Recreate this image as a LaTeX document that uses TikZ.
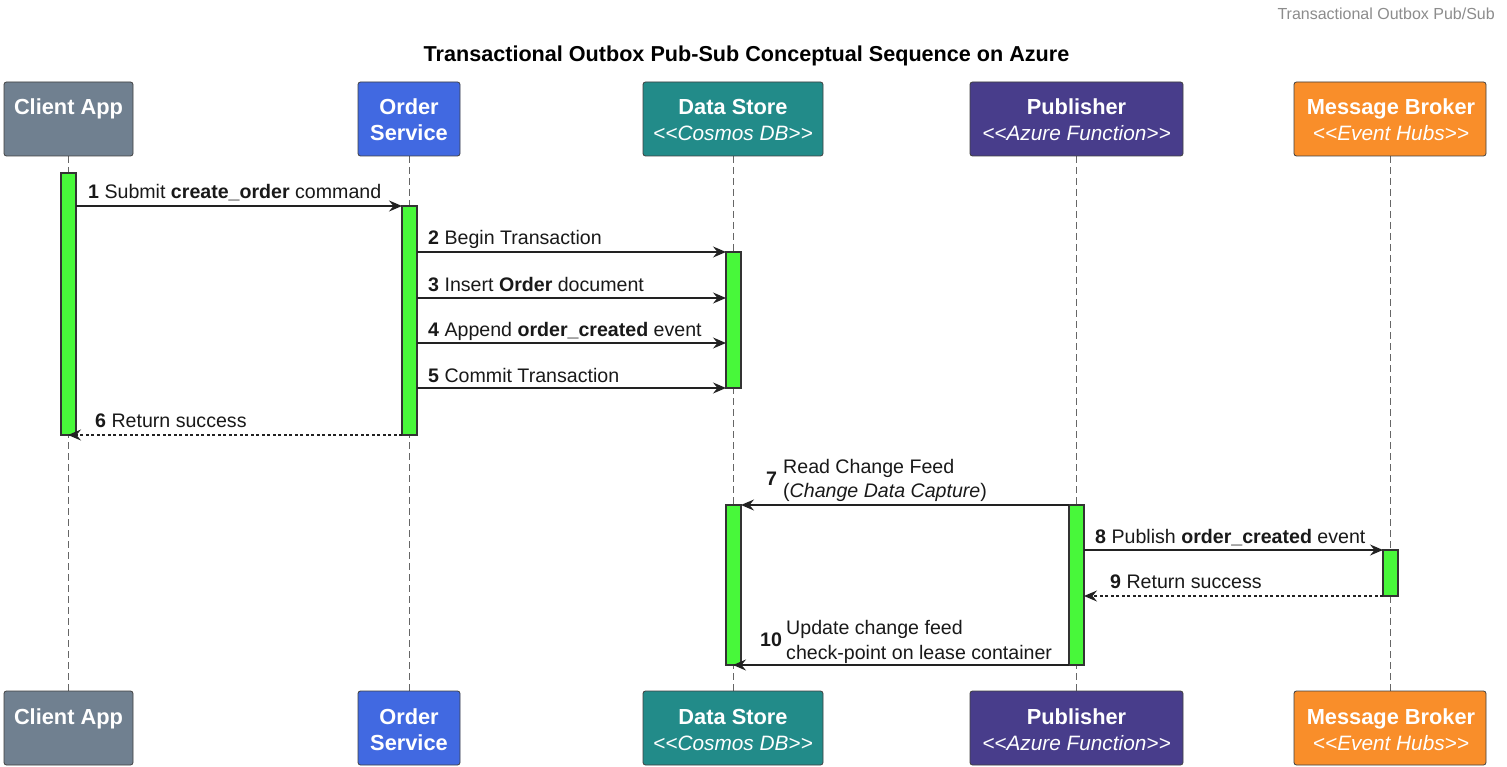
\documentclass[tikz,border=0pt]{standalone}
\usepackage{fontspec}
\setmainfont{Liberation Sans}
\usetikzlibrary{arrows.meta}
\definecolor{cslate}{HTML}{708090}
\definecolor{croyal}{HTML}{4169E1}
\definecolor{cteal}{HTML}{228B89}
\definecolor{cpurple}{HTML}{483D8B}
\definecolor{corange}{HTML}{F98E2A}
\definecolor{cgreen}{HTML}{48F83A}
\definecolor{cline}{HTML}{222222}
\tikzset{
  head/.style={draw=black!75,line width=0.8pt,rounded corners=2.5pt},
  headtxt/.style={text=white,font=\fontsize{21.8}{24}\selectfont\bfseries,anchor=base,inner sep=0pt},
  headsub/.style={text=white,font=\fontsize{20.8}{24}\selectfont\itshape,anchor=base,inner sep=0pt},
  life/.style={draw=black!60,line width=0.8pt,dash pattern=on 7pt off 4pt},
  actbar/.style={draw=black!80,fill=cgreen,line width=1.2pt},
  msg/.style={draw=cline,line width=1.3pt,-{Stealth[length=13pt,width=11pt,inset=4.5pt]}},
  ret/.style={msg,dash pattern=on 3pt off 2.5pt},
  lbl/.style={font=\fontsize{19.6}{22}\selectfont,anchor=base west,inner sep=0pt,text=black!90}
}
\begin{document}
\begin{tikzpicture}[x=1pt,y=-1pt]
\useasboundingbox[fill=white] (0,0) rectangle (1507,767);
% top-right tag and title
\node[font=\fontsize{16}{18}\selectfont,text=black!45,anchor=base east,inner sep=0pt] (tag) at (1495,20) {Transactional Outbox Pub/Sub};
\node[font=\fontsize{21.6}{24}\selectfont\bfseries,anchor=base,inner sep=0pt] (title) at (746.5,62) {Transactional Outbox Pub-Sub Conceptual Sequence on Azure};
% lifelines
\foreach \n/\x in {ca/68,os/409,ds/733,pb/1076,mb/1390}{
  \coordinate (\n t) at (\x,156);
  \coordinate (\n b) at (\x,691);
  \draw[life] (\n t) -- (\n b);
}
% headers top and bottom
\foreach \yo/\s in {0/t,609/b}{
  \begin{scope}[yshift=-\yo pt]
  \draw[head,fill=cslate] (4,82) rectangle (133,156);
  \node[headtxt] (ca\s h) at (68.5,115) {Client App};
  \draw[head,fill=croyal] (358,82) rectangle (460,156);
  \node[headtxt] (os\s h1) at (409,115) {Order};
  \node[headtxt] (os\s h2) at (409,141) {Service};
  \draw[head,fill=cteal] (643,82) rectangle (823,156);
  \node[headtxt] (ds\s h1) at (733,115) {Data Store};
  \node[headsub] (ds\s h2) at (733,141) {<{}<Cosmos DB>{}>};
  \draw[head,fill=cpurple] (970,82) rectangle (1183,156);
  \node[headtxt] (pb\s h1) at (1076.5,115) {Publisher};
  \node[headsub] (pb\s h2) at (1076.5,141) {<{}<Azure Function>{}>};
  \draw[head,fill=corange] (1294,82) rectangle (1486,156);
  \node[headtxt] (mb\s h1) at (1391,115) {Message Broker};
  \node[headsub] (mb\s h2) at (1391,141) {<{}<Event Hubs>{}>};
  \end{scope}
}
% activation bars
\draw[actbar] (61,173) rectangle (76,435);
\draw[actbar] (402,206) rectangle (417,435);
\draw[actbar] (726,252) rectangle (741,388);
\draw[actbar] (726,505) rectangle (741,665);
\draw[actbar] (1069,505) rectangle (1084,665);
\draw[actbar] (1383,550) rectangle (1398,596);
% message endpoints
\coordinate (m1a) at (76,206);   \coordinate (m1b) at (402,206);
\coordinate (m2a) at (417,252);  \coordinate (m2b) at (726,252);
\coordinate (m3a) at (417,298);  \coordinate (m3b) at (726,298);
\coordinate (m4a) at (417,343);  \coordinate (m4b) at (726,343);
\coordinate (m5a) at (417,388);  \coordinate (m5b) at (726,388);
\coordinate (m6a) at (402,435);  \coordinate (m6b) at (68,435);
\coordinate (m7a) at (1069,505); \coordinate (m7b) at (741,505);
\coordinate (m8a) at (1084,550); \coordinate (m8b) at (1383,550);
\coordinate (m9a) at (1383,596); \coordinate (m9b) at (1084,596);
\coordinate (m10a) at (1069,665); \coordinate (m10b) at (733,665);
\draw[msg] (m1a) -- (m1b);
\draw[msg] (m2a) -- (m2b);
\draw[msg] (m3a) -- (m3b);
\draw[msg] (m4a) -- (m4b);
\draw[msg] (m5a) -- (m5b);
\draw[ret] (m6a) -- (m6b);
\draw[msg] (m7a) -- (m7b);
\draw[msg] (m8a) -- (m8b);
\draw[ret] (m9a) -- (m9b);
\draw[msg] (m10a) -- (m10b);
% labels
\node[lbl] (l1) at (88,199) {\textbf{1} Submit \textbf{create\_order} command};
\node[lbl] (l2) at (428,245) {\textbf{2} Begin Transaction};
\node[lbl] (l3) at (428,291) {\textbf{3} Insert \textbf{Order} document};
\node[lbl] (l4) at (428,336) {\textbf{4} Append \textbf{order\_created} event};
\node[lbl] (l5) at (428,382) {\textbf{5} Commit Transaction};
\node[lbl] (l6) at (95,427) {\textbf{6} Return success};
\node[lbl] (l7n) at (766,485) {\textbf{7}};
\node[lbl] (l7a) at (783,473) {Read Change Feed};
\node[lbl] (l7b) at (783,497) {(\textit{Change Data Capture})};
\node[lbl] (l8) at (1095,543) {\textbf{8} Publish \textbf{order\_created} event};
\node[lbl] (l9) at (1110,588) {\textbf{9} Return success};
\node[lbl] (l10n) at (760,646) {\textbf{10}};
\node[lbl] (l10a) at (786,634) {Update change feed};
\node[lbl] (l10b) at (786,659) {check-point on lease container};
\end{tikzpicture}
\end{document}
